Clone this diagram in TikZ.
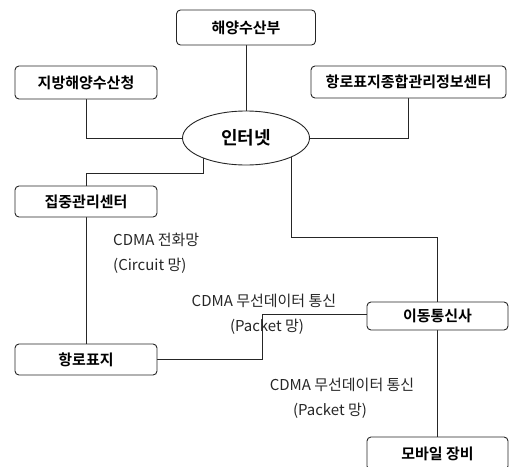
\documentclass[tikz,border=0pt]{standalone}
\usepackage{fontspec}
\setmainfont{Noto Sans CJK KR}[BoldFont={Noto Sans CJK KR Bold}]
\usetikzlibrary{shapes.geometric,backgrounds}
\begin{document}
\begin{tikzpicture}[x=1pt,y=-1pt,
  box/.style={draw=black!85, line width=0.9pt, rounded corners=4pt, fill=white,
    font=\bfseries\fontsize{15}{18}\selectfont, inner sep=0pt},
  lab/.style={font=\fontsize{15}{17}\selectfont, inner sep=0pt, text=black!85},
  wire/.style={draw=black!85, line width=0.9pt}]
\useasboundingbox (0,0) rectangle (521,466);
\node[box, minimum width=139pt, minimum height=35pt] (mof) at (246,27.5) {해양수산부};
\node[box, minimum width=142pt, minimum height=33pt] (reg) at (86,82.5) {지방해양수산청};
\node[box, minimum width=195pt, minimum height=32pt] (aton) at (408.5,82) {항로표지종합관리정보센터};
\node[draw=black!85, line width=0.9pt, ellipse, minimum width=127pt, minimum height=54pt, inner sep=0pt,
  fill=white, font=\bfseries\fontsize{18}{20}\selectfont] (net) at (246,138) {인터넷};
\node[box, minimum width=142pt, minimum height=31pt] (ctr) at (86,201.5) {집중관리센터};
\node[box, minimum width=141pt, minimum height=28pt] (mob) at (437.5,316) {이동통신사};
\node[box, minimum width=142pt, minimum height=31pt] (buoy) at (86,359.5) {항로표지};
\node[box, minimum width=141pt, minimum height=33pt] (dev) at (437.5,453.5) {모바일 장비};

\coordinate (c1) at (203,173);
\coordinate (c2) at (291,237);
\coordinate (c3) at (262,314);

\begin{scope}[on background layer]
\draw[wire] (mof.south) -- (net.north);
\draw[wire] (reg.south) |- (net.west);
\draw[wire] (aton.south) |- (net.east);
\draw[wire] (ctr.north) |- (c1) -- (c1 |- net.center);
\draw[wire] (c2 |- net.center) -- (c2) -| (mob.north);
\draw[wire] (ctr.south) -- (buoy.north);
\draw[wire] (buoy.east) -| (c3) -- (c3 -| mob.west);
\draw[wire] (mob.south) -- (dev.north);
\end{scope}

\node[lab, anchor=west] (l1) at (113,240) {CDMA 전화망};
\node[lab, anchor=west] (l2) at (113,266) {(Circuit 망)};
\node[lab] (l3) at (264,301) {CDMA 무선데이터 통신};
\node[lab] (l4) at (267,327) {(Packet 망)};
\node[lab] (l5) at (342,385) {CDMA 무선데이터 통신};
\node[lab] (l6) at (330,411) {(Packet 망)};
\end{tikzpicture}
\end{document}
